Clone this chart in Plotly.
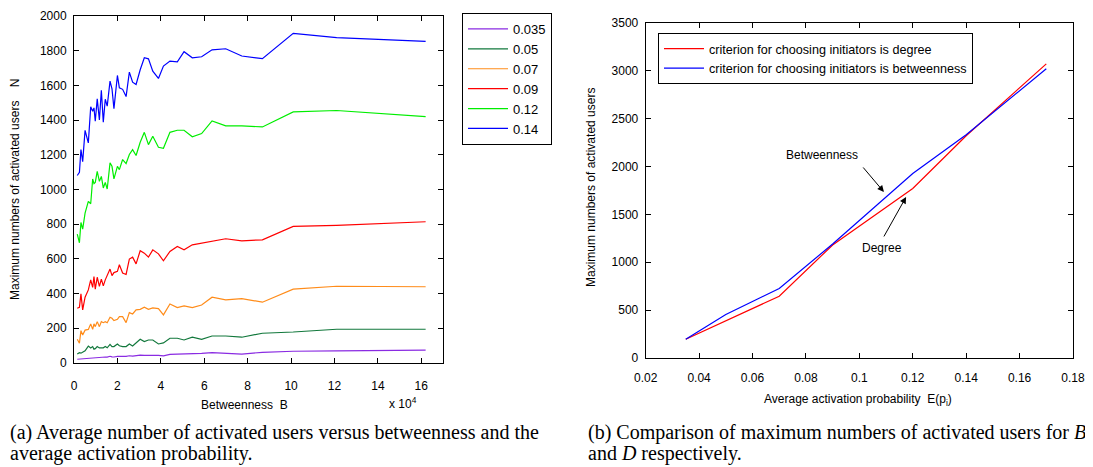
import plotly.graph_objects as go

# The page body has an 8px margin, so the figure is 8px smaller than the window
OFF = 8
W, H = 1093 - OFF, 467 - OFF

# ---------------- Left panel data (betweenness in units of 1e4) ----------------
betweenness = [0.15, 0.25, 0.32, 0.40, 0.51, 0.66, 0.77, 0.86, 0.92, 0.98, 1.07, 1.17, 1.26,
               1.35, 1.44, 1.53, 1.66, 1.75, 1.84, 2.00, 2.09, 2.24, 2.40, 2.55, 2.70, 2.86,
               3.05, 3.24, 3.43, 3.63, 3.89, 4.12, 4.42, 4.76, 5.07, 5.45, 5.88, 6.36, 6.99,
               7.73, 8.68, 10.1, 12.1, 16.2]

n_014 = [1080, 1098, 1230, 1160, 1340, 1268, 1476, 1451, 1470, 1393, 1522, 1400, 1572,
         1387, 1520, 1480, 1624, 1580, 1466, 1657, 1586, 1577, 1535, 1676, 1618, 1605,
         1690, 1759, 1753, 1682, 1640, 1711, 1740, 1736, 1794, 1759, 1765, 1805, 1811,
         1769, 1754, 1900, 1875, 1854]
n_012 = [742, 692, 809, 771, 863, 931, 917, 1060, 1033, 1040, 1104, 1046, 1075,
         1008, 1040, 1002, 1153, 1133, 1060, 1133, 1114, 1172, 1149, 1201, 1229, 1195,
         1272, 1329, 1258, 1306, 1243, 1237, 1329, 1341, 1341, 1303, 1322, 1395, 1366,
         1366, 1360, 1447, 1455, 1420]
n_009 = [314, 320, 397, 305, 378, 420, 478, 434, 497, 424, 493, 440, 482,
         443, 478, 507, 540, 502, 520, 527, 565, 517, 509, 598, 609, 570,
         646, 632, 609, 651, 628, 588, 642, 671, 651, 680, 690, 703, 715,
         703, 709, 786, 792, 813]
n_007 = [135, 112, 185, 160, 188, 192, 224, 192, 224, 208, 237, 208, 237,
         231, 237, 231, 262, 256, 243, 250, 266, 266, 231, 289, 281, 305,
         308, 320, 308, 316, 312, 276, 339, 318, 328, 318, 333, 378, 362,
         370, 349, 424, 441, 438]
n_005 = [50, 58, 55, 62, 69, 96, 85, 93, 78, 81, 93, 85, 86,
         86, 93, 86, 106, 93, 93, 108, 98, 93, 93, 108, 96, 112,
         135, 122, 131, 131, 108, 114, 141, 141, 131, 147, 135, 154, 154,
         147, 170, 177, 193, 193]
n_0035 = [20, 21, 22, 23, 24, 28, 27, 29, 28, 30, 31, 30, 32,
          31, 33, 32, 37, 34, 33, 36, 35, 37, 36, 40, 38, 41,
          44, 42, 43, 44, 42, 39, 48, 50, 50, 52, 54, 58, 55,
          50, 60, 66, 68, 72]

left_series = [("0.035", n_0035, "#8a2be2"),
               ("0.05", n_005, "#12783c"),
               ("0.07", n_007, "#ff8c1a"),
               ("0.09", n_009, "#ff0000"),
               ("0.12", n_012, "#00ee00"),
               ("0.14", n_014, "#0000ff")]

left_xticks = [0, 2, 4, 6, 8, 10, 12, 14, 16]
left_yticks = [0, 200, 400, 600, 800, 1000, 1200, 1400, 1600, 1800, 2000]

# ---------------- Right panel data ----------------
avg_prob = [0.035, 0.05, 0.07, 0.09, 0.12, 0.14, 0.17]
max_degree = [195, 390, 645, 1180, 1770, 2320, 3070]
max_betweenness = [195, 455, 725, 1190, 1925, 2330, 3020]

right_xticks = [0.02, 0.04, 0.06, 0.08, 0.1, 0.12, 0.14, 0.16, 0.18]
right_xlabels = ["0.02", "0.04", "0.06", "0.08", "0.1", "0.12", "0.14", "0.16", "0.18"]
right_yticks = [0, 500, 1000, 1500, 2000, 2500, 3000, 3500]

FONT = "Liberation Sans, Arial, sans-serif"
SERIF = "Liberation Serif, DejaVu Serif, serif"

fig = go.Figure()

for name, vals, col in left_series:
    fig.add_trace(go.Scatter(x=betweenness, y=vals, mode="lines", name=name,
                             line=dict(color=col, width=1.2), xaxis="x", yaxis="y",
                             legend="legend"))

fig.add_trace(go.Scatter(x=avg_prob, y=max_degree, mode="lines",
                         name="criterion for choosing initiators is degree",
                         line=dict(color="#ff0000", width=1.2), xaxis="x2", yaxis="y2",
                         legend="legend2"))
fig.add_trace(go.Scatter(x=avg_prob, y=max_betweenness, mode="lines",
                         name="criterion for choosing initiators is betweenness",
                         line=dict(color="#0000ff", width=1.2), xaxis="x2", yaxis="y2",
                         legend="legend2"))


def px_x(p):
    return (p - OFF) / W


def px_y(p):
    return 1 - (p - OFF) / H


axis_common = dict(showline=True, linecolor="black", linewidth=1, mirror="ticks",
                   ticks="inside", ticklen=5, tickcolor="black", showgrid=False,
                   zeroline=False, automargin=False,
                   tickfont=dict(family=FONT, size=12, color="black"))

fig.update_layout(
    width=W, height=H,
    margin=dict(l=0, r=0, t=0, b=0, autoexpand=False),
    paper_bgcolor="white", plot_bgcolor="white",
    font=dict(family=FONT, size=12, color="black"),
    xaxis=dict(domain=[px_x(74), px_x(443)], range=[0, 17], tickvals=left_xticks,
               ticklabelstandoff=12, anchor="y", **axis_common),
    yaxis=dict(domain=[px_y(362.7), px_y(16)], range=[0, 2000], tickvals=left_yticks,
               ticklabelstandoff=4, anchor="x", **axis_common),
    xaxis2=dict(domain=[px_x(645.7), px_x(1073)], range=[0.02, 0.18], tickvals=right_xticks,
                ticktext=right_xlabels, ticklabelstandoff=9, anchor="y2", **axis_common),
    yaxis2=dict(domain=[px_y(358), px_y(22.7)], range=[0, 3500], tickvals=right_yticks,
                ticklabelstandoff=4, anchor="x2", **axis_common),
    legend=dict(x=px_x(462), y=px_y(13), xanchor="left", yanchor="top",
                bordercolor="black", borderwidth=1, bgcolor="white",
                font=dict(family=FONT, size=13), tracegroupgap=0, itemwidth=40),
    legend2=dict(x=px_x(658), y=px_y(33), xanchor="left", yanchor="top",
                 bordercolor="black", borderwidth=1, bgcolor="white",
                 font=dict(family=FONT, size=12.6), tracegroupgap=0, itemwidth=40),
    showlegend=True,
)


def paper_text(text, x, y, size=12, family=FONT, angle=0, xanchor="center"):
    return dict(text=text, x=px_x(x), y=px_y(y), xref="paper", yref="paper",
                xanchor=xanchor, yanchor="middle", showarrow=False, textangle=angle,
                font=dict(family=family, size=size, color="black"))


annotations = [
    paper_text("Maximum numbers of activated users    N", 15, 190, angle=-90),
    paper_text("Betweenness  B", 245, 405),
    paper_text("x 10<sup>4</sup>", 403, 403),
    paper_text("Maximum numbers of activated users", 591, 188, angle=-90),
    paper_text("Average activation probability  E(p<sub>i</sub>)", 858, 400),
    # arrows (no text) and their labels
    dict(text="", x=0.1092, y=1733, xref="x2", yref="y2", ax=-22, ay=-26,
         showarrow=True, arrowhead=2, arrowsize=1.3, arrowwidth=1, arrowcolor="black",
         standoff=0),
    dict(text="", x=0.1175, y=1681, xref="x2", yref="y2", ax=-23, ay=41,
         showarrow=True, arrowhead=2, arrowsize=1.3, arrowwidth=1, arrowcolor="black",
         standoff=0),
    paper_text("Betweenness", 822, 155),
    paper_text("Degree", 882, 248),
    # captions
    paper_text("(a) Average number of activated users versus betweenness and the",
               8, 432, size=20, family=SERIF, xanchor="left"),
    paper_text("average activation probability.", 8, 453, size=20, family=SERIF,
               xanchor="left"),
    paper_text("(b) Comparison of maximum numbers of activated users for <i>B</i>",
               586, 432, size=20, family=SERIF, xanchor="left"),
    paper_text("and <i>D</i> respectively.", 586, 453, size=20, family=SERIF,
               xanchor="left"),
]
fig.update_layout(annotations=annotations)

fig.write_html("out.html")
